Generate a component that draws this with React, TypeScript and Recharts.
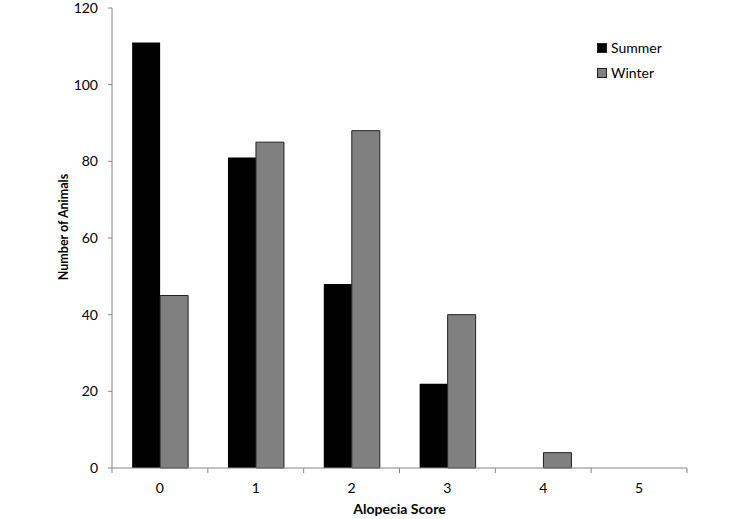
import React from 'react';
import { BarChart, Bar, XAxis, YAxis } from 'recharts';

const categories = ['0', '1', '2', '3', '4', '5'];
const summer = [111, 81, 48, 22, 0, 0];
const winter = [45, 85, 88, 40, 4, 0];
const yTicks = [0, 20, 40, 60, 80, 100, 120];
const seriesNames = ['Summer', 'Winter'];
const seriesColors = ['#000000', '#808080'];

const data = categories.map((c, i) => ({ score: c, Summer: summer[i], Winter: winter[i] }));

const FONT = 'Lato, "Open Sans", sans-serif';
const AXIS = '#868686';
const CHART_W = 745;
const MARGIN = { top: 8, right: 58, bottom: 0, left: 0 };
const Y_W = 112;
const BAND = (CHART_W - MARGIN.right - MARGIN.left - Y_W) / categories.length;

const CategoryTick = (props: any) => {
  const { x, y, payload, index } = props;
  const half = payload && typeof payload.offset === 'number' && payload.offset > 0 ? payload.offset : BAND / 2;
  const isLast = index === categories.length - 1;
  return (
    <g>
      <line x1={x - half} x2={x - half} y1={y} y2={y + 5} stroke={AXIS} />
      {isLast && <line x1={x + half} x2={x + half} y1={y} y2={y + 5} stroke={AXIS} />}
      <text x={x} y={y + 19} textAnchor="middle" dominantBaseline="central" fill="#000" fontSize={14} fontFamily={FONT}>
        {payload.value}
      </text>
    </g>
  );
};

const YLabel = (props: any) => {
  const vb = props.viewBox || { x: 0, y: 8, width: Y_W, height: 460 };
  const cx = vb.x + vb.width / 2 + 7;
  const cy = vb.y + vb.height / 2 - 11;
  return (
    <text
      x={cx}
      y={cy}
      transform={`rotate(-90, ${cx}, ${cy})`}
      textAnchor="middle"
      dominantBaseline="central"
      fill="#000"
      fontSize={12.5}
      fontWeight={700}
      fontFamily={FONT}
    >
      Number of Animals
    </text>
  );
};

const LegendBox = () => (
  <div style={{ position: 'absolute', left: 597, top: 35, fontFamily: FONT, fontSize: 14, color: '#000' }}>
    {seriesNames.map((name, i) => (
      <div key={name} style={{ display: 'flex', alignItems: 'center', height: 25 }}>
        <div style={{ width: 8, height: 8, background: seriesColors[i], border: '1px solid #222', marginRight: 4 }} />
        <span>{name}</span>
      </div>
    ))}
  </div>
);

export default function App() {
  return (
    <div style={{ position: 'absolute', left: 0, top: 0, width: 745, height: 519, background: '#fff' }}>
      <BarChart
        width={CHART_W}
        height={519}
        data={data}
        margin={MARGIN}
        barGap={0}
        barCategoryGap="21%"
      >
        <XAxis
          dataKey="score"
          height={51}
          interval={0}
          axisLine={{ stroke: AXIS }}
          tickLine={false}
          tickSize={0}
          tickMargin={0}
          tick={<CategoryTick />}
          label={{
            value: 'Alopecia Score',
            position: 'insideBottom',
            offset: 5,
            fill: '#000',
            fontSize: 14,
            fontWeight: 700,
            fontFamily: FONT,
          }}
        />
        <YAxis
          width={Y_W}
          domain={[0, 120]}
          ticks={yTicks}
          interval={0}
          tickSize={4}
          tickMargin={10}
          axisLine={{ stroke: AXIS }}
          tickLine={{ stroke: AXIS }}
          tick={{ fill: '#000', fontSize: 14, fontFamily: FONT }}
          label={<YLabel />}
        />
        <Bar dataKey="Summer" fill={seriesColors[0]} isAnimationActive={false} />
        <Bar dataKey="Winter" fill={seriesColors[1]} stroke="#222" strokeWidth={1} isAnimationActive={false} />
      </BarChart>
      <LegendBox />
    </div>
  );
}
